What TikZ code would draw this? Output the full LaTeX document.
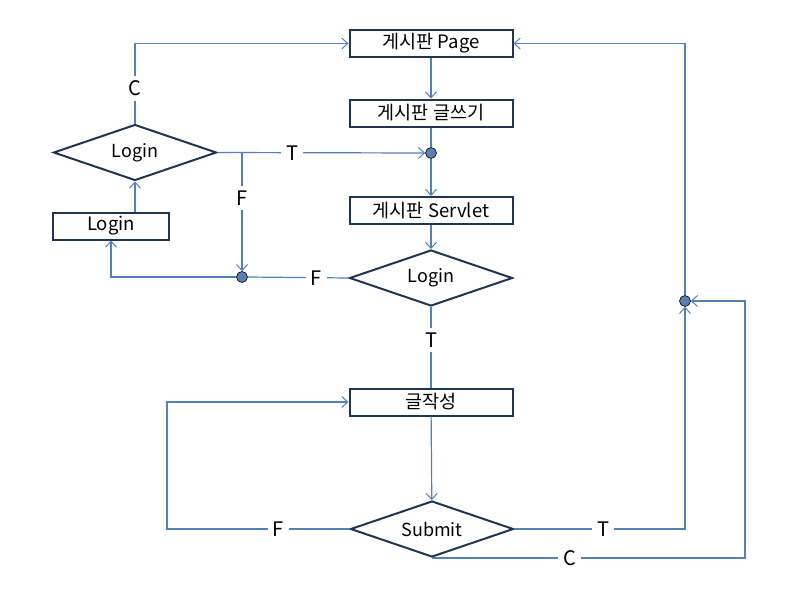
\documentclass[tikz,border=0pt]{standalone}
\usepackage{fontspec}
\setmainfont{Noto Sans CJK KR}
\usetikzlibrary{arrows.meta,shapes.geometric}
\definecolor{ln}{HTML}{4F81BD}
\definecolor{bd}{HTML}{1F3552}
\definecolor{dotc}{HTML}{5B7DB1}
\begin{document}
\begin{tikzpicture}[x=1pt,y=-1pt,
  box/.style={draw=bd, line width=2pt, minimum width=163pt, minimum height=27pt, inner sep=0pt, font=\fontsize{18.5}{20}\selectfont},
  dia/.style={diamond, aspect=3, draw=bd, line width=2pt, minimum width=163pt, minimum height=56pt, inner sep=0pt, font=\fontsize{18}{20}\selectfont},
  jdot/.style={circle, draw=black, line width=0.6pt, fill=dotc, minimum size=11pt, inner sep=0pt},
  line/.style={draw=ln, line width=1.2pt},
  conn/.style={line, -{Straight Barb[length=6pt,width=11pt,line width=1pt]}},
  lbl/.style={fill=white, inner sep=5pt, text=black, font=\fontsize{20}{21}\selectfont}
]
\useasboundingbox (0,0) rectangle (800,600);
\fill[white] (0,0) rectangle (800,600);

\node[box] (page) at (431,43.5) {게시판 Page};
\node[box] (write) at (431,113) {게시판 글쓰기};
\node[jdot] (d1) at (431,153) {};
\node[box] (servlet) at (431,210.5) {게시판 Servlet};
\node[dia] (login2) at (431,278) {Login};
\node[box] (wbox) at (431,402) {글작성};
\node[dia] (submit) at (432,529) {Submit};
\node[dia] (login1) at (135,152.5) {Login};
\node[box, minimum width=116pt] (lbox) at (111,226) {Login};
\node[jdot] (d2) at (242,277) {};
\node[jdot] (d3) at (685,301) {};

\coordinate (br) at (242,153);
\coordinate (fl) at (167,529);
\coordinate (cr) at (745,0);

\draw[conn] (page) -- (write);
\draw[line] (write) -- (d1);
\draw[conn] (d1) -- (servlet);
\draw[conn] (servlet) -- (login2);
\draw[line] (login2.west) -- node[lbl, pos=0.32]{F} (d2.east);
\draw[conn] (d2.west) -| (lbox.south);
\draw[conn] (login1.south |- lbox.north) -- (login1.south);
\draw[conn] (login1.east) -- node[lbl, pos=0.36]{T} (d1.west);
\draw[conn] (br) -- node[lbl, pos=0.38]{F} (d2.north);
\draw[conn] (login1.north) |- node[lbl, pos=0.22]{C} (page.west);
\draw[line] (login2.south) -- node[lbl, pos=0.41]{T} (wbox.north);
\draw[conn] (wbox) -- (submit);
\draw[conn] (submit.west) -- node[lbl, pos=0.39]{F} (fl) |- (wbox.west);
\draw[conn] (submit.east) -| node[lbl, pos=0.26]{T} (d3.south);
\draw[conn] (submit.south) -- node[lbl, pos=0.44]{C} (submit.south -| cr) |- (d3.east);
\draw[conn] (d3.north) |- (page.east);
\end{tikzpicture}
\end{document}
